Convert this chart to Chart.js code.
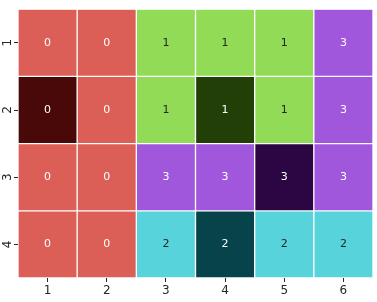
<!DOCTYPE html>
<html>
<head>
<meta charset="utf-8">
<script src="https://cdn.jsdelivr.net/npm/chart.js@4.4.0/dist/chart.umd.min.js"></script>
<style>
  html, body { margin: 0; padding: 0; background: #fff; }
  #wrap { width: 377px; height: 302px; }
</style>
</head>
<body>
<div id="wrap"><canvas id="heat" width="377" height="302"></canvas></div>
<script>
// labels along each axis
var colLabels = ['1', '2', '3', '4', '5', '6'];
var rowLabels = ['1', '2', '3', '4'];

// one array per row of the grid
var row1 = [0, 0, 1, 1, 1, 3];
var row2 = [0, 0, 1, 1, 1, 3];
var row3 = [0, 0, 3, 3, 3, 3];
var row4 = [0, 0, 2, 2, 2, 2];
var rows = [row1, row2, row3, row4];

// cells drawn in the dark shade: [row, col]
var marked = [[1, 0], [1, 3], [2, 4], [3, 3]];

var fillColors = ['#db5f57', '#91db57', '#57d3db', '#a157db'];
var darkColors = ['#4a0909', '#213f07', '#07434a', '#2b0642'];
var textColors = ['#ffffff', '#262626', '#262626', '#ffffff'];

function isMarked(r, c) {
    for (var i = 0; i < marked.length; i++) {
        if (marked[i][0] === r && marked[i][1] === c) return true;
    }
    return false;
}

var datasets = rows.map(function (vals, r) {
    return {
        label: rowLabels[r],
        data: vals.map(function () { return [r + 0.5, r + 1.5]; }),
        cellValues: vals,
        backgroundColor: vals.map(function (v, c) {
            return isMarked(r, c) ? darkColors[v] : fillColors[v];
        }),
        borderColor: '#ffffff',
        borderWidth: 1,
        borderSkipped: false,
        grouped: false,
        barPercentage: 1,
        categoryPercentage: 1
    };
});

var cellText = {
    id: 'cellText',
    afterDatasetsDraw: function (chart) {
        var ctx = chart.ctx;
        ctx.save();
        ctx.font = '11px "DejaVu Sans"';
        ctx.textAlign = 'center';
        ctx.textBaseline = 'middle';
        chart.data.datasets.forEach(function (ds, r) {
            var meta = chart.getDatasetMeta(r);
            meta.data.forEach(function (el, c) {
                var v = ds.cellValues[c];
                ctx.fillStyle = isMarked(r, c) ? '#ffffff' : textColors[v];
                ctx.fillText(String(v), el.x, (el.y + el.base) / 2);
            });
        });
        ctx.restore();
    }
};

new Chart(document.getElementById('heat').getContext('2d'), {
    type: 'bar',
    data: { labels: colLabels, datasets: datasets },
    options: {
        responsive: false,
        animation: false,
        layout: { padding: { top: 7, right: 4, left: 0, bottom: 0 } },
        plugins: { legend: { display: false }, tooltip: { enabled: false } },
        scales: {
            x: {
                border: { display: false },
                grid: { offset: false, drawOnChartArea: false, tickLength: 4, tickWidth: 1, tickColor: '#262626' },
                ticks: { color: '#262626', font: { family: 'DejaVu Sans', size: 12 }, padding: 2 },
                afterFit: function (scale) { scale.height = 24; }
            },
            y: {
                type: 'linear',
                reverse: true,
                min: 0.5,
                max: 4.5,
                border: { display: false },
                grid: { drawOnChartArea: false, tickLength: 4, tickWidth: 1, tickColor: '#262626' },
                afterBuildTicks: function (scale) {
                    scale.ticks = rowLabels.map(function (l, i) { return { value: i + 1 }; });
                },
                ticks: {
                    color: '#262626',
                    font: { family: 'DejaVu Sans', size: 12 },
                    minRotation: 90,
                    maxRotation: 90,
                    padding: 2,
                    crossAlign: 'center',
                    callback: function (v) { return rowLabels[v - 1]; }
                },
                afterFit: function (scale) { scale.width = 18; }
            }
        }
    },
    plugins: [cellText]
});
</script>
</body>
</html>
